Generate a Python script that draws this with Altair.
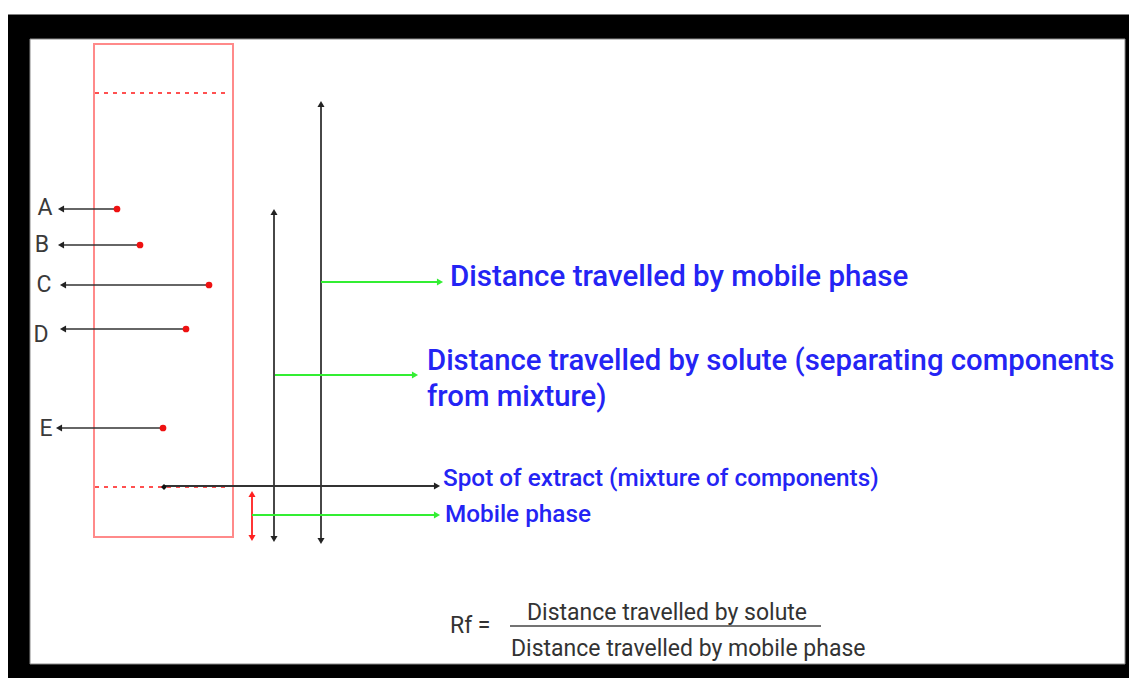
import altair as alt
import pandas as pd

# ---------------- data (image pixel coordinates of the diagram) ----------------
# black frame and inner white panel
frame_x, frame_x2, frame_y, frame_y2 = [7, 30], [1140, 1125], [15, 39], [690, 664]
frame_fill = ["#000000", "#ffffff"]
frame_stroke = ["#000000", "#8a8a8a"]

# TLC plate
plate_x, plate_x2, plate_y, plate_y2 = [94], [233], [44], [537]

# solvent front and origin (dashed)
dash_x, dash_x2, dash_y = [95, 95], [229, 229], [93, 487]

# spots A..E
spot_names = ["A", "B", "C", "D", "E"]
spot_x = [117, 140, 209, 186, 163]
spot_y = [209, 245, 285, 329, 428]
spot_label_x = [45, 42, 44, 41, 46]
spot_label_y = [208, 245, 285, 335, 429]
spot_arrow_tip = [62, 62, 64, 64, 60]

# origin spot of extract
origin_x, origin_y = [164], [487]

# other arrow shafts
seg_x = [274, 321, 252, 321, 275, 252, 165]
seg_x2 = [274, 321, 252, 438, 413, 435, 435]
seg_y = [212, 104, 494, 282, 375, 515, 486]
seg_y2 = [539, 541, 538, 282, 375, 515, 486]
seg_col = ["#333333", "#333333", "#ff2020", "#33ee33", "#33ee33", "#33ee33", "#333333"]

# arrow heads
head_x = [61, 61, 63, 63, 59, 274, 274, 321, 321, 252, 252, 440, 415, 437, 437]
head_y = [209, 245, 285, 329, 428, 212, 539, 104, 541, 494, 538, 282, 375, 515, 486]
head_shape = ["triangle-left"] * 5 + ["triangle-up", "triangle-down"] * 3 + ["triangle-right"] * 4
head_col = ["#222222"] * 5 + ["#222222"] * 4 + ["#ff2020"] * 2 + ["#33ee33"] * 3 + ["#222222"]

# blue annotation texts
blue_text = [
    "Distance travelled by mobile phase",
    "Distance travelled by solute (separating components",
    "from mixture)",
    "Spot of extract (mixture of components)",
    "Mobile phase",
]
blue_x = [450, 427, 427, 443, 445]
blue_y = [277, 361, 397, 479, 515]
blue_size = [29.5, 29.3, 29.3, 24.3, 24.3]

# formula
rf_text = ["Rf =", "Distance travelled by solute", "Distance travelled by mobile phase"]
rf_x = [450, 527, 511]
rf_y = [626, 613, 649]
frac_x, frac_x2, frac_y = [510], [821], [626]

# ---------------- chart ----------------
# the page has an 8px margin: the plot area covers image pixels 8..1129 x 8..678
X = dict(scale=alt.Scale(domain=[8, 1129], nice=False, zero=False), axis=None)
Y = dict(scale=alt.Scale(domain=[8, 678], nice=False, zero=False, reverse=True), axis=None)

def xq(f="x"):
    return alt.X(f"{f}:Q", **X)

def yq(f="y"):
    return alt.Y(f"{f}:Q", **Y)

frame = alt.Chart(pd.DataFrame(dict(x=frame_x, x2=frame_x2, y=frame_y, y2=frame_y2,
                                    f=frame_fill, s=frame_stroke))).mark_rect(strokeWidth=1).encode(
    x=xq(), x2="x2:Q", y=yq(), y2="y2:Q",
    fill=alt.Fill("f:N", scale=None), stroke=alt.Stroke("s:N", scale=None))

plate = alt.Chart(pd.DataFrame(dict(x=plate_x, x2=plate_x2, y=plate_y, y2=plate_y2))).mark_rect(
    fill=None, filled=False, stroke="#ff8a8a", strokeWidth=2).encode(
    x=xq(), x2="x2:Q", y=yq(), y2="y2:Q")

dashes = alt.Chart(pd.DataFrame(dict(x=dash_x, x2=dash_x2, y=dash_y))).mark_rule(
    color="#ff5050", strokeWidth=2, strokeDash=[4, 5]).encode(
    x=xq(), x2="x2:Q", y=yq())

spot_df = pd.DataFrame(dict(n=spot_names, x=spot_x, y=spot_y, lx=spot_label_x,
                            ly=spot_label_y, tip=spot_arrow_tip))
spot_lines = alt.Chart(spot_df).mark_rule(color="#333333", strokeWidth=1.7).encode(
    x=xq(), x2="tip:Q", y=yq())
spots = alt.Chart(spot_df).mark_circle(color="#ee1111", opacity=1, size=45).encode(
    x=xq(), y=yq())
spot_labels = alt.Chart(spot_df).mark_text(font="Roboto", fontSize=23, color="#3a3a3a",
                                           align="center", baseline="middle").encode(
    x=xq("lx"), y=yq("ly"), text="n:N")

origin = alt.Chart(pd.DataFrame(dict(x=origin_x, y=origin_y))).mark_point(
    shape="diamond", filled=True, color="#111111", opacity=1, size=35).encode(x=xq(), y=yq())

segs = alt.Chart(pd.DataFrame(dict(x=seg_x, x2=seg_x2, y=seg_y, y2=seg_y2, c=seg_col))).mark_rule(
    strokeWidth=1.8).encode(
    x=xq(), x2="x2:Q", y=yq(), y2="y2:Q", color=alt.Color("c:N", scale=None))

heads = alt.Chart(pd.DataFrame(dict(x=head_x, y=head_y, s=head_shape, c=head_col))).mark_point(
    filled=True, opacity=1, size=50).encode(
    x=xq(), y=yq(), shape=alt.Shape("s:N", scale=None), color=alt.Color("c:N", scale=None))

blue = alt.Chart(pd.DataFrame(dict(t=blue_text, x=blue_x, y=blue_y, s=blue_size))).mark_text(
    font="Roboto", fontWeight=500, color="#2424f4", align="left", baseline="middle").encode(
    x=xq(), y=yq(), text="t:N", size=alt.Size("s:Q", scale=None))

rf = alt.Chart(pd.DataFrame(dict(t=rf_text, x=rf_x, y=rf_y))).mark_text(
    font="Roboto", fontSize=23, color="#333333", align="left", baseline="middle").encode(
    x=xq(), y=yq(), text="t:N")

frac = alt.Chart(pd.DataFrame(dict(x=frac_x, x2=frac_x2, y=frac_y))).mark_rule(
    color="#444444", strokeWidth=1.5).encode(x=xq(), x2="x2:Q", y=yq())

chart = alt.layer(frame, plate, dashes, spot_lines, spots, spot_labels, segs, heads, origin,
                  blue, rf, frac).properties(
    width=1121, height=670, padding=0, autosize=alt.AutoSizeParams(type="none"),
    background="white").configure_view(stroke=None)

chart.save("out.html", embed_options={"renderer": "svg", "actions": False})
